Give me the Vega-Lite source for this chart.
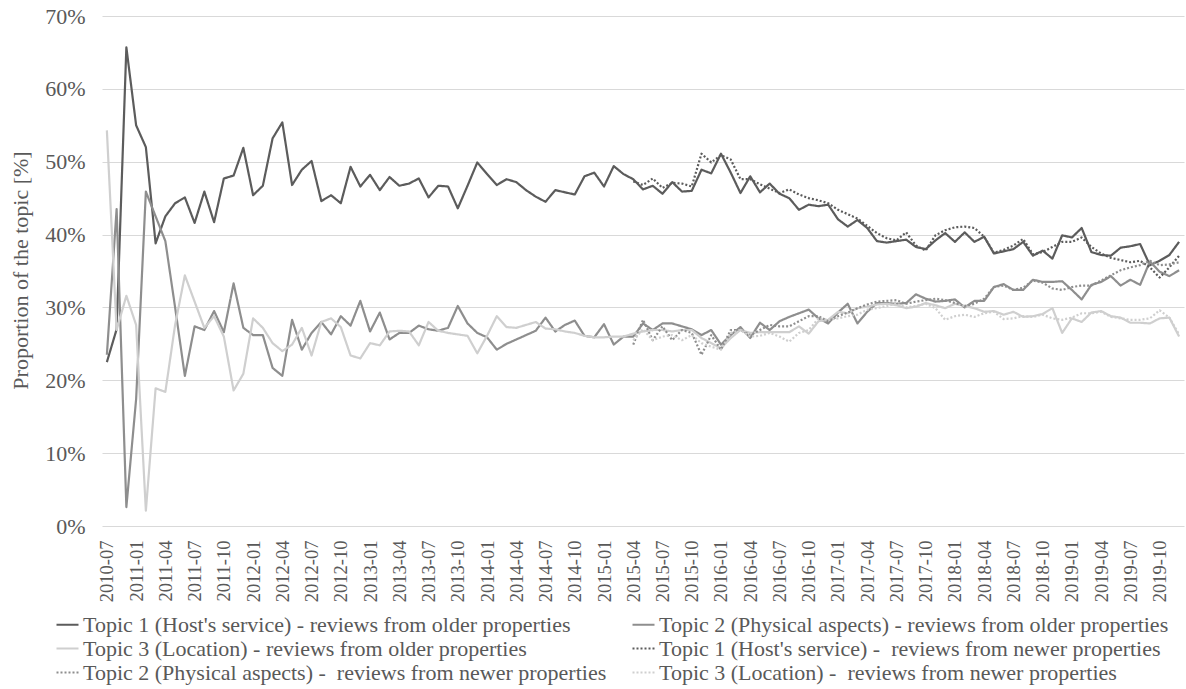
{
  "$schema": "https://vega.github.io/schema/vega-lite/v6.json",
  "width": 1082,
  "height": 510,
  "autosize": {"type": "none"},
  "padding": {"left": 102, "top": 16, "right": 2, "bottom": 163},
  "background": "white",
  "config": {"view": {"stroke": null}, "font": "Liberation Serif, Times New Roman, serif"},
  "data": {
    "values": [
      {"m": "2010-07", "a": 22.5, "b": 23.5, "c": 54.3},
      {"m": "2010-10", "a": 27.0, "b": 43.5, "c": 26.9},
      {"m": "2010-12", "a": 65.7, "b": 2.6, "c": 31.6},
      {"m": "2011-01", "a": 55.0, "b": 17.4, "c": 27.6},
      {"m": "2011-02", "a": 52.0, "b": 45.9, "c": 2.1},
      {"m": "2011-03", "a": 38.8, "b": 42.5, "c": 18.9},
      {"m": "2011-04", "a": 42.5, "b": 39.1, "c": 18.4},
      {"m": "2011-05", "a": 44.3, "b": 30.0, "c": 27.6},
      {"m": "2011-06", "a": 45.1, "b": 20.6, "c": 34.4},
      {"m": "2011-07", "a": 41.6, "b": 27.4, "c": 30.8},
      {"m": "2011-08", "a": 45.9, "b": 26.9, "c": 27.2},
      {"m": "2011-09", "a": 41.7, "b": 29.5, "c": 28.8},
      {"m": "2011-10", "a": 47.7, "b": 26.6, "c": 26.0},
      {"m": "2011-11", "a": 48.1, "b": 33.3, "c": 18.6},
      {"m": "2011-12", "a": 51.9, "b": 27.2, "c": 20.9},
      {"m": "2012-01", "a": 45.4, "b": 26.2, "c": 28.5},
      {"m": "2012-02", "a": 46.7, "b": 26.2, "c": 27.2},
      {"m": "2012-03", "a": 53.2, "b": 21.7, "c": 25.1},
      {"m": "2012-04", "a": 55.4, "b": 20.6, "c": 24.0},
      {"m": "2012-05", "a": 46.8, "b": 28.3, "c": 24.9},
      {"m": "2012-06", "a": 48.9, "b": 24.2, "c": 27.2},
      {"m": "2012-07", "a": 50.1, "b": 26.5, "c": 23.4},
      {"m": "2012-08", "a": 44.6, "b": 28.0, "c": 28.0},
      {"m": "2012-09", "a": 45.4, "b": 26.3, "c": 28.5},
      {"m": "2012-10", "a": 44.3, "b": 28.8, "c": 27.3},
      {"m": "2012-11", "a": 49.3, "b": 27.5, "c": 23.4},
      {"m": "2012-12", "a": 46.6, "b": 30.9, "c": 23.0},
      {"m": "2013-01", "a": 48.2, "b": 26.7, "c": 25.1},
      {"m": "2013-02", "a": 46.1, "b": 29.3, "c": 24.8},
      {"m": "2013-03", "a": 47.9, "b": 25.6, "c": 26.7},
      {"m": "2013-04", "a": 46.7, "b": 26.5, "c": 26.8},
      {"m": "2013-05", "a": 47.0, "b": 26.5, "c": 26.7},
      {"m": "2013-06", "a": 47.7, "b": 27.5, "c": 24.8},
      {"m": "2013-07", "a": 45.1, "b": 27.0, "c": 28.0},
      {"m": "2013-08", "a": 46.7, "b": 26.8, "c": 26.8},
      {"m": "2013-09", "a": 46.6, "b": 27.2, "c": 26.5},
      {"m": "2013-10", "a": 43.6, "b": 30.2, "c": 26.3},
      {"m": "2013-11", "a": 46.7, "b": 27.8, "c": 26.1},
      {"m": "2013-12", "a": 49.9, "b": 26.5, "c": 23.7},
      {"m": "2014-01", "a": 48.3, "b": 25.9, "c": 26.1},
      {"m": "2014-02", "a": 46.8, "b": 24.2, "c": 28.8},
      {"m": "2014-03", "a": 47.6, "b": 25.0, "c": 27.3},
      {"m": "2014-04", "a": 47.2, "b": 25.6, "c": 27.2},
      {"m": "2014-05", "a": 46.1, "b": 26.2, "c": 27.6},
      {"m": "2014-06", "a": 45.2, "b": 26.8, "c": 28.0},
      {"m": "2014-07", "a": 44.5, "b": 28.6, "c": 27.1},
      {"m": "2014-08", "a": 46.1, "b": 26.7, "c": 27.0},
      {"m": "2014-09", "a": 45.8, "b": 27.6, "c": 26.7},
      {"m": "2014-10", "a": 45.5, "b": 28.2, "c": 26.5},
      {"m": "2014-11", "a": 48.0, "b": 26.1, "c": 26.1},
      {"m": "2014-12", "a": 48.5, "b": 25.9, "c": 25.9},
      {"m": "2015-01", "a": 46.6, "b": 27.7, "c": 25.9},
      {"m": "2015-02", "a": 49.4, "b": 24.9, "c": 26.0},
      {"m": "2015-03", "a": 48.3, "b": 26.0, "c": 26.0},
      {"m": "2015-04", "a": 47.6, "b": 26.0, "c": 26.4, "d": 47.3, "e": 24.9, "f": 25.5},
      {"m": "2015-05", "a": 46.2, "b": 27.8, "c": 26.7, "d": 46.8, "e": 28.3, "f": 27.0},
      {"m": "2015-06", "a": 46.7, "b": 26.9, "c": 26.9, "d": 47.7, "e": 25.5, "f": 25.5},
      {"m": "2015-07", "a": 45.6, "b": 27.8, "c": 26.9, "d": 46.4, "e": 27.4, "f": 26.0},
      {"m": "2015-08", "a": 47.2, "b": 27.8, "c": 26.7, "d": 47.1, "e": 25.5, "f": 26.2},
      {"m": "2015-09", "a": 45.9, "b": 27.4, "c": 26.9, "d": 47.0, "e": 26.9, "f": 25.5},
      {"m": "2015-10", "a": 46.0, "b": 27.0, "c": 26.9, "d": 46.6, "e": 26.5, "f": 26.2},
      {"m": "2015-11", "a": 48.9, "b": 26.2, "c": 25.8, "d": 51.1, "e": 23.5, "f": 25.1},
      {"m": "2015-12", "a": 48.4, "b": 26.9, "c": 25.1, "d": 49.9, "e": 26.2, "f": 24.6},
      {"m": "2016-01", "a": 51.1, "b": 24.9, "c": 24.4, "d": 50.9, "e": 24.2, "f": 24.2},
      {"m": "2016-02", "a": 48.5, "b": 26.2, "c": 25.8, "d": 50.3, "e": 26.9, "f": 26.5},
      {"m": "2016-03", "a": 45.7, "b": 27.3, "c": 26.9, "d": 47.6, "e": 26.9, "f": 26.9},
      {"m": "2016-04", "a": 48.0, "b": 25.8, "c": 26.5, "d": 47.6, "e": 26.2, "f": 26.0},
      {"m": "2016-05", "a": 45.8, "b": 27.9, "c": 26.6, "d": 46.9, "e": 26.9, "f": 26.1},
      {"m": "2016-06", "a": 47.0, "b": 26.9, "c": 26.6, "d": 46.3, "e": 27.6, "f": 26.5},
      {"m": "2016-07", "a": 45.6, "b": 28.1, "c": 26.6, "d": 45.7, "e": 27.4, "f": 26.0},
      {"m": "2016-08", "a": 45.0, "b": 28.7, "c": 26.6, "d": 46.2, "e": 27.4, "f": 25.3},
      {"m": "2016-09", "a": 43.4, "b": 29.2, "c": 27.4, "d": 45.5, "e": 28.1, "f": 26.5},
      {"m": "2016-10", "a": 44.1, "b": 29.7, "c": 26.4, "d": 45.0, "e": 28.8, "f": 26.9},
      {"m": "2016-11", "a": 43.9, "b": 28.5, "c": 28.1, "d": 44.7, "e": 28.8, "f": 28.5},
      {"m": "2016-12", "a": 44.1, "b": 27.8, "c": 28.3, "d": 44.3, "e": 28.1, "f": 28.3},
      {"m": "2017-01", "a": 42.1, "b": 29.3, "c": 29.4, "d": 43.4, "e": 28.8, "f": 28.5},
      {"m": "2017-02", "a": 41.1, "b": 30.5, "c": 29.2, "d": 42.8, "e": 29.3, "f": 28.8},
      {"m": "2017-03", "a": 42.0, "b": 27.8, "c": 29.9, "d": 42.2, "e": 29.9, "f": 29.0},
      {"m": "2017-04", "a": 40.9, "b": 29.4, "c": 30.1, "d": 41.2, "e": 30.4, "f": 29.7},
      {"m": "2017-05", "a": 39.1, "b": 30.6, "c": 30.4, "d": 40.2, "e": 30.8, "f": 29.9},
      {"m": "2017-06", "a": 38.9, "b": 30.6, "c": 30.5, "d": 39.5, "e": 30.9, "f": 30.2},
      {"m": "2017-07", "a": 39.1, "b": 30.5, "c": 30.3, "d": 39.2, "e": 31.0, "f": 30.5},
      {"m": "2017-08", "a": 39.3, "b": 30.6, "c": 29.9, "d": 40.3, "e": 30.5, "f": 30.0},
      {"m": "2017-09", "a": 38.3, "b": 31.8, "c": 30.1, "d": 38.5, "e": 30.8, "f": 30.2},
      {"m": "2017-10", "a": 38.0, "b": 31.2, "c": 30.6, "d": 37.8, "e": 31.0, "f": 30.5},
      {"m": "2017-11", "a": 39.2, "b": 30.8, "c": 30.3, "d": 39.9, "e": 31.2, "f": 29.9},
      {"m": "2017-12", "a": 40.2, "b": 30.9, "c": 29.9, "d": 40.6, "e": 31.0, "f": 28.3},
      {"m": "2018-01", "a": 39.0, "b": 31.1, "c": 30.5, "d": 41.0, "e": 30.6, "f": 28.8},
      {"m": "2018-02", "a": 40.3, "b": 30.0, "c": 30.2, "d": 41.1, "e": 30.2, "f": 29.0},
      {"m": "2018-03", "a": 39.0, "b": 30.9, "c": 29.9, "d": 40.9, "e": 30.5, "f": 28.7},
      {"m": "2018-04", "a": 39.7, "b": 30.9, "c": 29.4, "d": 39.7, "e": 31.2, "f": 29.2},
      {"m": "2018-05", "a": 37.4, "b": 32.8, "c": 29.5, "d": 37.5, "e": 32.8, "f": 29.4},
      {"m": "2018-06", "a": 37.7, "b": 33.2, "c": 29.0, "d": 37.9, "e": 33.0, "f": 28.4},
      {"m": "2018-07", "a": 38.0, "b": 32.4, "c": 29.4, "d": 38.5, "e": 32.4, "f": 28.5},
      {"m": "2018-08", "a": 39.0, "b": 32.4, "c": 28.7, "d": 39.4, "e": 32.7, "f": 28.8},
      {"m": "2018-09", "a": 37.1, "b": 33.8, "c": 28.8, "d": 37.3, "e": 33.7, "f": 28.7},
      {"m": "2018-10", "a": 37.8, "b": 33.5, "c": 29.1, "d": 37.6, "e": 33.4, "f": 29.0},
      {"m": "2018-11", "a": 36.7, "b": 33.5, "c": 29.9, "d": 38.3, "e": 32.6, "f": 28.5},
      {"m": "2018-12", "a": 39.9, "b": 33.6, "c": 26.5, "d": 39.0, "e": 32.4, "f": 28.3},
      {"m": "2019-01", "a": 39.6, "b": 32.4, "c": 28.5, "d": 39.0, "e": 32.8, "f": 28.6},
      {"m": "2019-02", "a": 40.9, "b": 31.1, "c": 28.0, "d": 39.6, "e": 33.0, "f": 29.2},
      {"m": "2019-03", "a": 37.6, "b": 33.1, "c": 29.3, "d": 38.3, "e": 33.0, "f": 29.2},
      {"m": "2019-04", "a": 37.2, "b": 33.5, "c": 29.5, "d": 37.4, "e": 33.7, "f": 29.4},
      {"m": "2019-05", "a": 37.1, "b": 34.3, "c": 28.8, "d": 36.8, "e": 34.4, "f": 28.7},
      {"m": "2019-06", "a": 38.2, "b": 33.0, "c": 28.6, "d": 36.5, "e": 35.1, "f": 28.5},
      {"m": "2019-07", "a": 38.4, "b": 33.8, "c": 27.9, "d": 36.2, "e": 35.5, "f": 28.3},
      {"m": "2019-08", "a": 38.7, "b": 33.1, "c": 27.9, "d": 36.4, "e": 35.8, "f": 28.3},
      {"m": "2019-09", "a": 35.8, "b": 36.3, "c": 27.8, "d": 35.5, "e": 36.4, "f": 28.5},
      {"m": "2019-10", "a": 36.4, "b": 34.9, "c": 28.5, "d": 34.1, "e": 35.8, "f": 29.6},
      {"m": "2019-11", "a": 37.2, "b": 34.3, "c": 28.6, "d": 35.5, "e": 35.9, "f": 28.6},
      {"m": "2019-12", "a": 39.0, "b": 35.1, "c": 26.0, "d": 37.1, "e": 36.2, "f": 26.3}
    ]
  },
  "transform": [
    {"fold": ["a", "b", "c", "d", "e", "f"], "as": ["series", "value"]},
    {"filter": "isValid(datum.value)"}
  ],
  "mark": {"type": "line", "strokeWidth": 2.2, "strokeJoin": "round"},
  "encoding": {
    "x": {
      "field": "m",
      "type": "ordinal",
      "sort": null,
      "scale": {"type": "point", "padding": 0.5},
      "axis": {
        "values": ["2010-07", "2011-01", "2011-04", "2011-07", "2011-10", "2012-01", "2012-04", "2012-07", "2012-10", "2013-01", "2013-04", "2013-07", "2013-10", "2014-01", "2014-04", "2014-07", "2014-10", "2015-01", "2015-04", "2015-07", "2015-10", "2016-01", "2016-04", "2016-07", "2016-10", "2017-01", "2017-04", "2017-07", "2017-10", "2018-01", "2018-04", "2018-07", "2018-10", "2019-01", "2019-04", "2019-07", "2019-10"],
        "title": null,
        "labelAngle": -90,
        "labelAlign": "right",
        "labelBaseline": "middle",
        "labelOverlap": false,
        "labelPadding": 14,
        "labelFont": "Liberation Serif, Times New Roman, serif",
        "labelFontSize": 18.5,
        "labelColor": "#595959",
        "ticks": false,
        "tickSize": 0,
        "domain": false,
        "grid": false
      }
    },
    "y": {
      "field": "value",
      "type": "quantitative",
      "scale": {"domain": [0, 70], "nice": false},
      "axis": {
        "values": [0, 10, 20, 30, 40, 50, 60, 70],
        "labelExpr": "datum.value + '%'",
        "title": "Proportion of the topic [%]",
        "titleFont": "Liberation Serif, Times New Roman, serif",
        "titleFontSize": 22,
        "titleFontWeight": "normal",
        "titleColor": "#595959",
        "titleX": -82,
        "titleY": 254,
        "titleAlign": "center",
        "titleBaseline": "middle",
        "titleAngle": -90,
        "labelFont": "Liberation Serif, Times New Roman, serif",
        "labelFontSize": 22,
        "labelColor": "#595959",
        "labelPadding": 17,
        "ticks": false,
        "tickSize": 0,
        "domain": false,
        "grid": true,
        "gridColor": "#d9d9d9",
        "gridWidth": 1
      }
    },
    "color": {
      "field": "series",
      "type": "nominal",
      "scale": {
        "domain": ["a", "c", "e", "b", "d", "f"],
        "range": ["#5c5c5c", "#cfcfcf", "#8e8e8e", "#8e8e8e", "#5c5c5c", "#cfcfcf"]
      },
      "legend": {
        "title": null,
        "orient": "none",
        "legendX": -47,
        "legendY": 596,
        "columns": 2,
        "columnPadding": 21,
        "rowPadding": 0,
        "symbolType": "stroke",
        "symbolSize": 484,
        "symbolStrokeWidth": 2.2,
        "labelOffset": 3,
        "labelFont": "Liberation Serif, Times New Roman, serif",
        "labelFontSize": 22,
        "labelColor": "#595959",
        "labelLimit": 800,
        "labelExpr": "datum.label == 'a' ? \"Topic 1 (Host's service) - reviews from older properties\" : datum.label == 'b' ? 'Topic 2 (Physical aspects) - reviews from older properties' : datum.label == 'c' ? 'Topic 3 (Location) - reviews from older properties' : datum.label == 'd' ? \"Topic 1 (Host's service) -\u00a0 reviews from newer properties\" : datum.label == 'e' ? 'Topic 2 (Physical aspects) -\u00a0 reviews from newer properties' : 'Topic 3 (Location) -\u00a0 reviews from newer properties'"
      }
    },
    "strokeDash": {
      "field": "series",
      "type": "nominal",
      "scale": {
        "domain": ["a", "c", "e", "b", "d", "f"],
        "range": [[1, 0], [1, 0], [2, 2], [1, 0], [2, 2], [2, 2]]
      },
      "legend": {
        "title": null,
        "orient": "none",
        "legendX": -47,
        "legendY": 596,
        "columns": 2,
        "columnPadding": 21,
        "rowPadding": 0,
        "symbolType": "stroke",
        "symbolSize": 484,
        "symbolStrokeWidth": 2.2,
        "labelOffset": 3,
        "labelFont": "Liberation Serif, Times New Roman, serif",
        "labelFontSize": 22,
        "labelColor": "#595959",
        "labelLimit": 800,
        "labelExpr": "datum.label == 'a' ? \"Topic 1 (Host's service) - reviews from older properties\" : datum.label == 'b' ? 'Topic 2 (Physical aspects) - reviews from older properties' : datum.label == 'c' ? 'Topic 3 (Location) - reviews from older properties' : datum.label == 'd' ? \"Topic 1 (Host's service) -\u00a0 reviews from newer properties\" : datum.label == 'e' ? 'Topic 2 (Physical aspects) -\u00a0 reviews from newer properties' : 'Topic 3 (Location) -\u00a0 reviews from newer properties'"
      }
    }
  }
}
